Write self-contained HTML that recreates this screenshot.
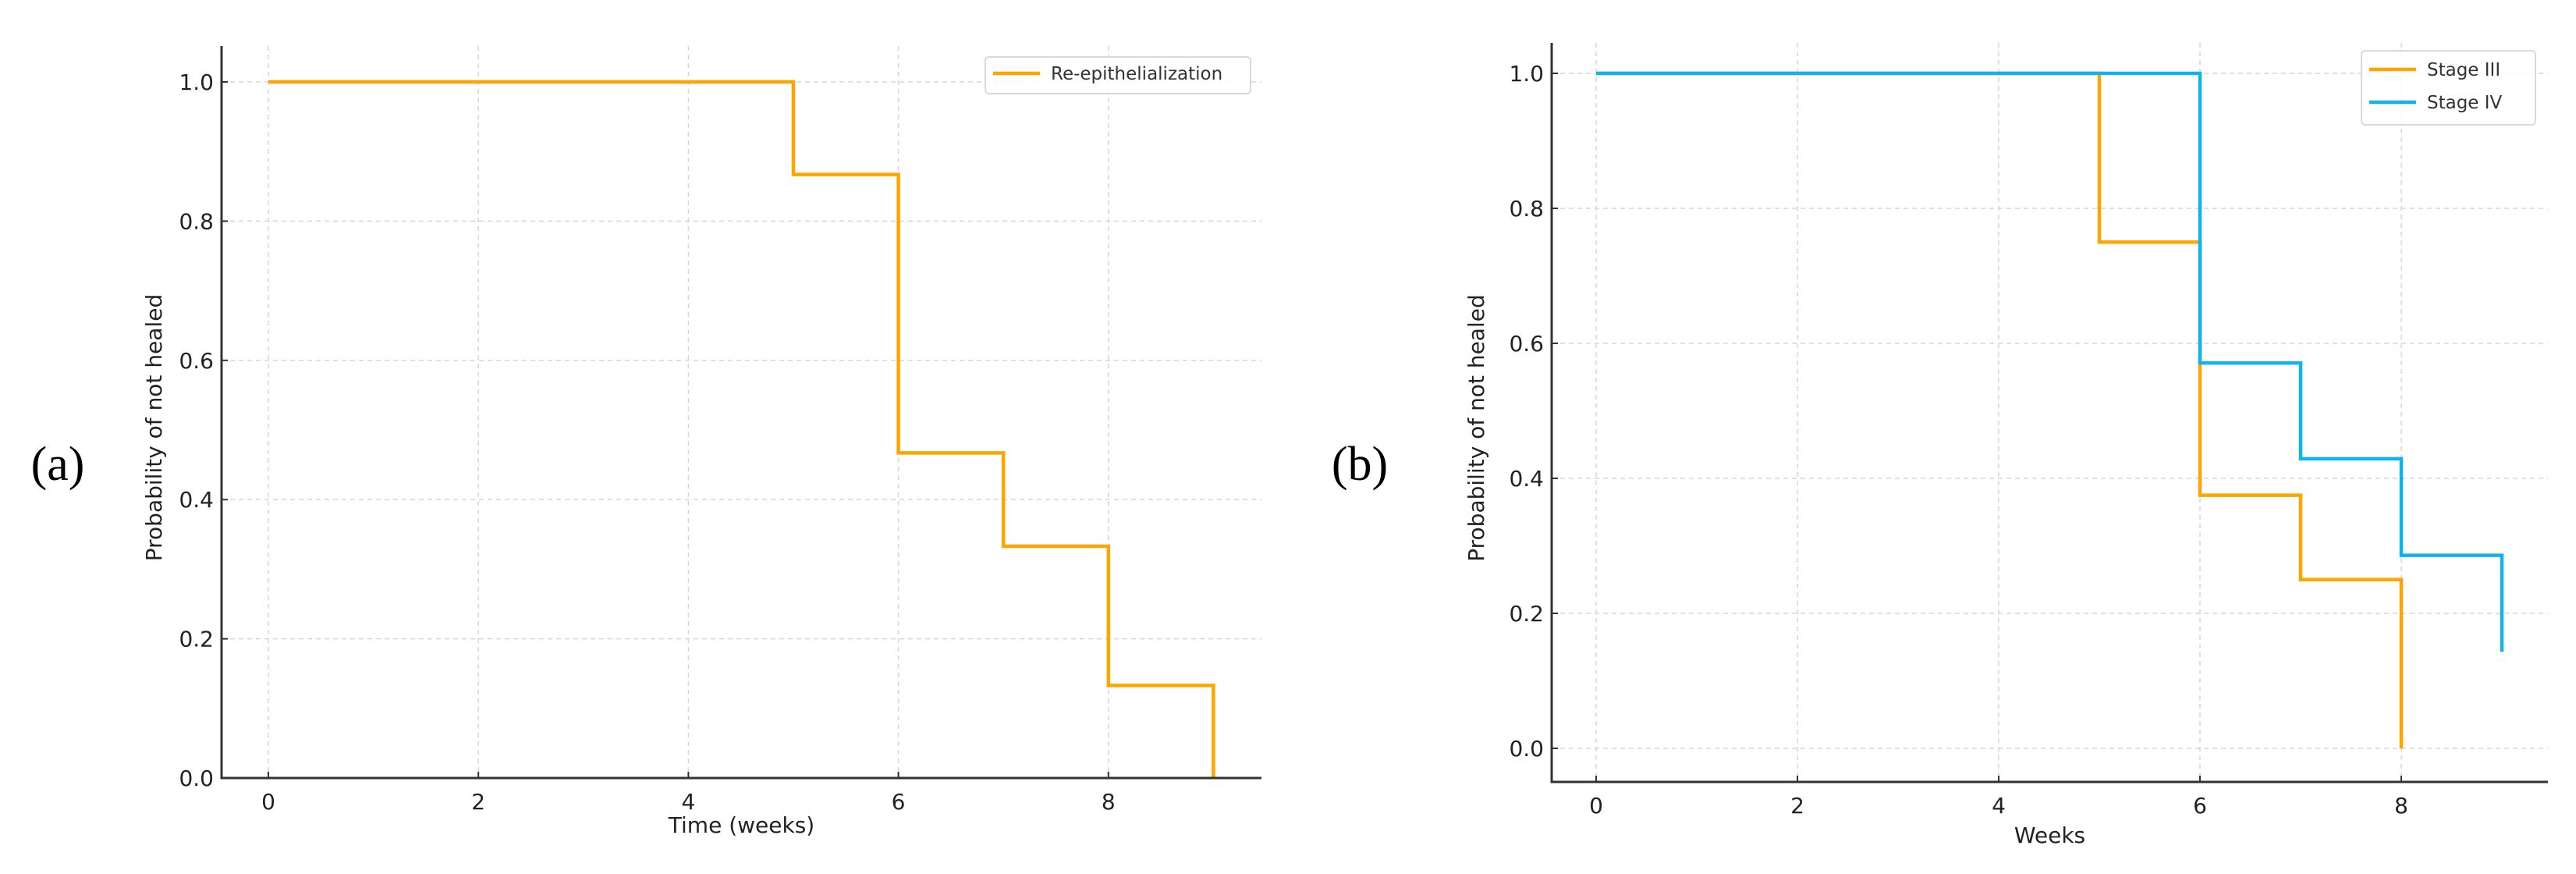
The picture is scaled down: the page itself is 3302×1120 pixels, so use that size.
<!DOCTYPE html>
<html><head><meta charset="utf-8"><style>
html,body{margin:0;padding:0;background:#fff;}
svg{display:block;font-family:"DejaVu Sans","Liberation Sans",sans-serif;}
</style></head><body>
<svg id="fig" width="3302" height="1120" viewBox="0 0 3302 1120" xmlns="http://www.w3.org/2000/svg">
<rect width="3302" height="1120" fill="#fff"/>
<text x="74" y="615" font-family="Liberation Serif, serif" font-size="62" text-anchor="middle" fill="#000">(a)</text>
<text x="1743" y="615" font-family="Liberation Serif, serif" font-size="62" text-anchor="middle" fill="#000">(b)</text>
<g id="pa"></g>
<g id="pb"></g>
</svg>
<script>
const xTicks=[0,2,4,6,8];
const yTicks=[0,0.2,0.4,0.6,0.8,1.0];
const yTickLabels=["0.0","0.2","0.4","0.6","0.8","1.0"];
const aTimes=[0,5,6,7,8,9];
const aValues=[1.0,0.867,0.467,0.333,0.133,0.0];
const b3Times=[0,5,6,7,8];
const b3Values=[1.0,0.75,0.375,0.25,0.0];
const b4Times=[0,6,7,8,9];
const b4Values=[1.0,0.571,0.429,0.286,0.143];
const NS="http://www.w3.org/2000/svg";
function mk(p,t,at){const e=document.createElementNS(NS,t);for(const k in at)e.setAttribute(k,at[k]);p.appendChild(e);return e;}
function panel(g,cfg){
  const X=v=>cfg.x0+v*cfg.ux, Y=v=>cfg.y0-v*cfg.uy;
  xTicks.forEach(t=>{
    const l=mk(g,'line',{x1:X(t),x2:X(t),y1:cfg.top,y2:cfg.bottom,stroke:'#d6d6d6','stroke-width':1.5,'stroke-dasharray':'6,5'});
    
    
    const tk=mk(g,'line',{x1:X(t),x2:X(t),y1:cfg.bottom,y2:cfg.bottom-8,stroke:'#333','stroke-width':2});
    
    
    const tx=mk(g,'text',{x:X(t),y:cfg.bottom+40,'font-size':28,'text-anchor':'middle',fill:'#222'});
    tx.textContent=t;
    
    
  });
  yTicks.forEach((t,i)=>{
    const l=mk(g,'line',{x1:cfg.left,x2:cfg.right,y1:Y(t),y2:Y(t),stroke:'#d6d6d6','stroke-width':1.5,'stroke-dasharray':'6,5'});
    
    
    const tk=mk(g,'line',{x1:cfg.left,x2:cfg.left+8,y1:Y(t),y2:Y(t),stroke:'#333','stroke-width':2});
    
    
    const tx=mk(g,'text',{x:cfg.left-10,y:Y(t)+10,'font-size':28,'text-anchor':'end',fill:'#222'});
    tx.textContent=yTickLabels[i];
    
    
  });
  cfg.series.forEach(s=>{
    let d='M'+X(s.t[0])+','+Y(s.v[0]);
    for(let i=1;i<s.t.length;i++){d+=' H'+X(s.t[i])+' V'+Y(s.v[i]);}
    const p=mk(g,'path',{d:d,fill:'none',stroke:s.c,'stroke-width':4.5});
    
    
  });
  const ax=mk(g,'path',{d:`M${cfg.left},${cfg.top} V${cfg.bottom} H${cfg.right}`,fill:'none',stroke:'#333','stroke-width':3});
  
  
  const xl=mk(g,'text',{x:(cfg.left+cfg.right)/2,y:cfg.xlY,'font-size':28,'text-anchor':'middle',fill:'#222'});
  xl.textContent=cfg.xlabel;
  
  
  const cy=(cfg.top+cfg.bottom)/2+20;
  const yl=mk(g,'text',{x:cfg.ylX,y:cy,'font-size':28,'text-anchor':'middle',fill:'#222',transform:`rotate(-90 ${cfg.ylX} ${cy})`});
  yl.textContent='Probability of not healed';
  
  
  const L=cfg.legend;
  const lg=mk(g,'g',{});
  
  
  mk(lg,'rect',{x:L.x,y:L.y,width:L.w,height:L.h,rx:5,fill:'#fff','fill-opacity':0.85,stroke:'#d9d9d9','stroke-width':2});
  cfg.series.forEach((s,i)=>{
    const yy=L.y+L.first+i*42;
    const ln=mk(lg,'line',{x1:L.x+10,x2:L.x+70,y1:yy,y2:yy,stroke:s.c,'stroke-width':4.5});
    
    
    const tx=mk(lg,'text',{x:L.x+84,y:yy+8,'font-size':23,fill:'#333'});
    tx.textContent=s.label;
    
    
  });
}
panel(document.getElementById('pa'),{x0:344,ux:134.6,y0:997,uy:892,left:284,right:1617,top:59,bottom:997,
  xlabel:'Time (weeks)',xlY:1067,ylX:207,
  legend:{x:1263,y:73,w:340,h:47,first:21},
  series:[{name:'re-epithelialization-line',label:'Re-epithelialization',t:aTimes,v:aValues,c:'#FFA500'}]});
panel(document.getElementById('pb'),{x0:2046,ux:129,y0:959,uy:865,left:1989,right:3266,top:55,bottom:1002,
  xlabel:'Weeks',xlY:1080,ylX:1902,
  legend:{x:3027,y:65,w:223,h:95,first:24},
  series:[{name:'stage-iii-line',label:'Stage III',t:b3Times,v:b3Values,c:'#FFA500'},
          {name:'stage-iv-line',label:'Stage IV',t:b4Times,v:b4Values,c:'#12B2EA'}]});
</script>
</body></html>
